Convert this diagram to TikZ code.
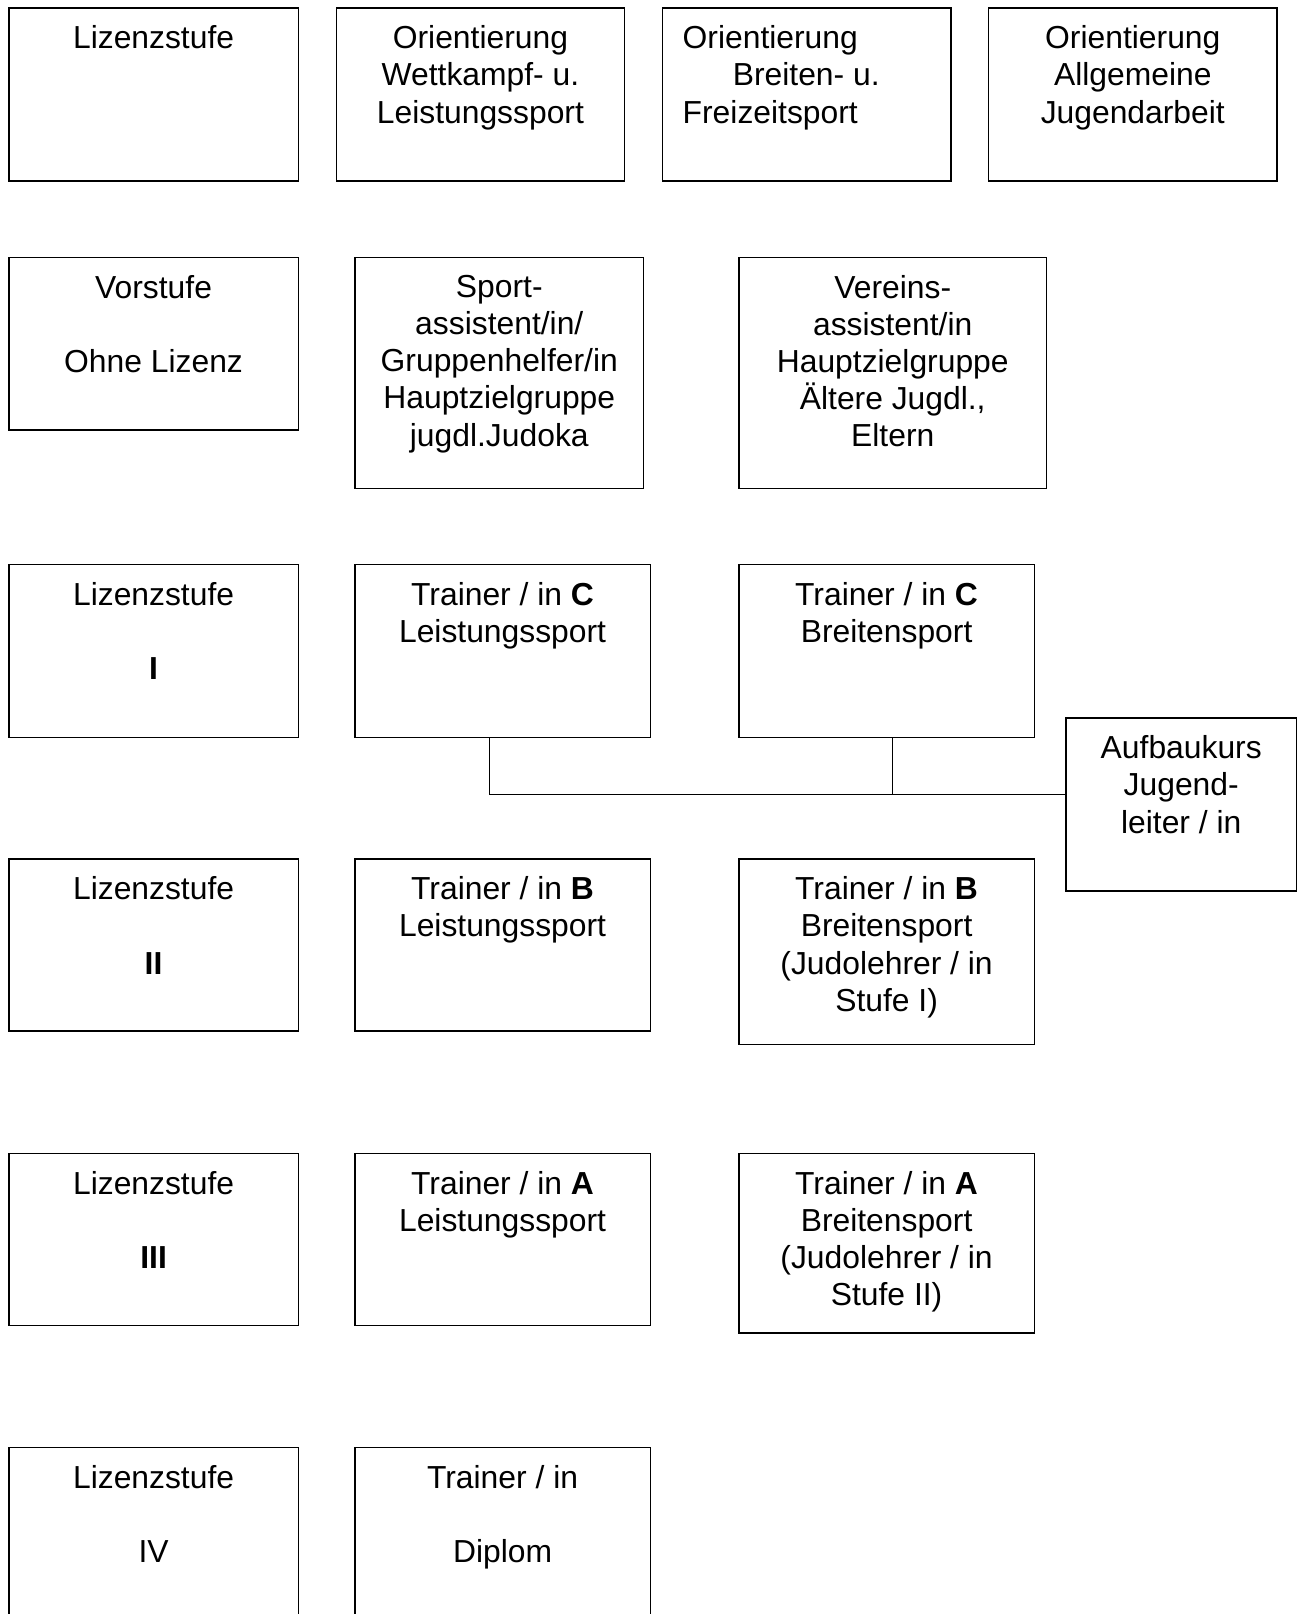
\documentclass[tikz,border=0pt]{standalone}
\usepackage{fontspec}
\setmainfont{Liberation Sans}
\usetikzlibrary{positioning}

\begin{document}
\begin{tikzpicture}[x=0.377pt,y=-0.377pt,
box/.style={draw,line width=0.55pt,inner sep=0pt,anchor=north west},
txt/.style={inner sep=0pt,align=center,font={\fontsize{12pt}{14pt}\selectfont},
execute at begin node=\strut},
link/.style={line width=0.5pt}]
\useasboundingbox (0,0) rectangle (1304,1614);
\clip (0,0) rectangle (1304,1614);
\foreach \n/\x/\y/\w/\h in {lz/8.2/7.5/289.3/172.8, ow/335.5/7.5/288.4/172.8,
ob/662/7.5/288.3/172.8, oj/987.8/7.5/288.5/172.8,
vs/8.2/257/289.3/172.2, sa/354.1/257/288.9/230.5, va/738.2/257/307.6/230.5,
l1/8.2/564/289.3/172.9, tcl/354.1/564/295.5/172.9, tcb/738.2/564/295.3/172.9,
ajl/1065.2/717.4/230.6/172.9,
l2/8.2/858.4/289.3/171.8, tbl/354.1/858.4/295.5/171.8, tbb/738.2/858.4/295.3/185.2,
l3/8.2/1152.7/289.3/171.9, tal/354.1/1152.7/295.5/171.9, tab/738.2/1152.7/295.3/179.4,
l4/8.2/1447/289.3/172, td/354.1/1447/295.5/172}
\node[box,minimum width=\w*0.377pt,minimum height=\h*0.377pt] (\n) at (\x,\y) {};
\node[txt,below=5.5pt of lz.north] (lz-t) {Lizenzstufe};
\node[txt,below=6.7pt of ow.north] (ow-t) {Orientierung\\Wettkampf- u.\\Leistungssport};
\node[txt,align=left,below right=6.7pt and 7.6pt of ob.north west] (ob-t)
{Orientierung\\\hspace*{18.9pt}Breiten- u.\\Freizeitsport};
\node[txt,below=6.7pt of oj.north] (oj-t) {Orientierung\\Allgemeine\\Jugendarbeit};
\node[txt,below=6.7pt of vs.north] (vs-t) {Vorstufe\\\mbox{}\\Ohne Lizenz};
\node[txt,below=6.7pt of sa.north] (sa-t)
{Sport-\\assistent/in/\\Gruppenhelfer/in\\Hauptzielgruppe\\jugdl.Judoka};
\node[txt,below=6.7pt of va.north] (va-t)
{Vereins-\\assistent/in\\Hauptzielgruppe\\Ältere Jugdl.,\\Eltern};
\node[txt,below=6.7pt of l1.north] (l1-t) {Lizenzstufe\\\mbox{}\\\textbf{I}};
\node[txt,below=6.7pt of tcl.north] (tcl-t) {Trainer / in \textbf{C}\\Leistungssport};
\node[txt,below=6.7pt of tcb.north] (tcb-t) {Trainer / in \textbf{C}\\Breitensport};
\node[txt,below=6.7pt of ajl.north] (ajl-t) {Aufbaukurs\\Jugend-\\leiter / in};
\node[txt,below=6.7pt of l2.north] (l2-t) {Lizenzstufe\\\mbox{}\\\textbf{II}};
\node[txt,below=6.7pt of tbl.north] (tbl-t) {Trainer / in \textbf{B}\\Leistungssport};
\node[txt,below=6.7pt of tbb.north] (tbb-t)
{Trainer / in \textbf{B}\\Breitensport\\(Judolehrer / in\\Stufe I)};
\node[txt,below=6.7pt of l3.north] (l3-t) {Lizenzstufe\\\mbox{}\\\textbf{III}};
\node[txt,below=6.7pt of tal.north] (tal-t) {Trainer / in \textbf{A}\\Leistungssport};
\node[txt,below=6.7pt of tab.north] (tab-t)
{Trainer / in \textbf{A}\\Breitensport\\(Judolehrer / in\\Stufe II)};
\node[txt,below=6.7pt of l4.north] (l4-t) {Lizenzstufe\\\mbox{}\\IV};
\node[txt,below=6.7pt of td.north] (td-t) {Trainer / in\\\mbox{}\\Diplom};
\coordinate (ja) at (489.6,794.3);
\coordinate (jb) at (892.5,794.3);
\draw[link] (tcl.south -| ja) -- (ja) -- (ajl.west |- ja);
\draw[link] (tcb.south -| jb) -- (jb);
\end{tikzpicture}
\end{document}
